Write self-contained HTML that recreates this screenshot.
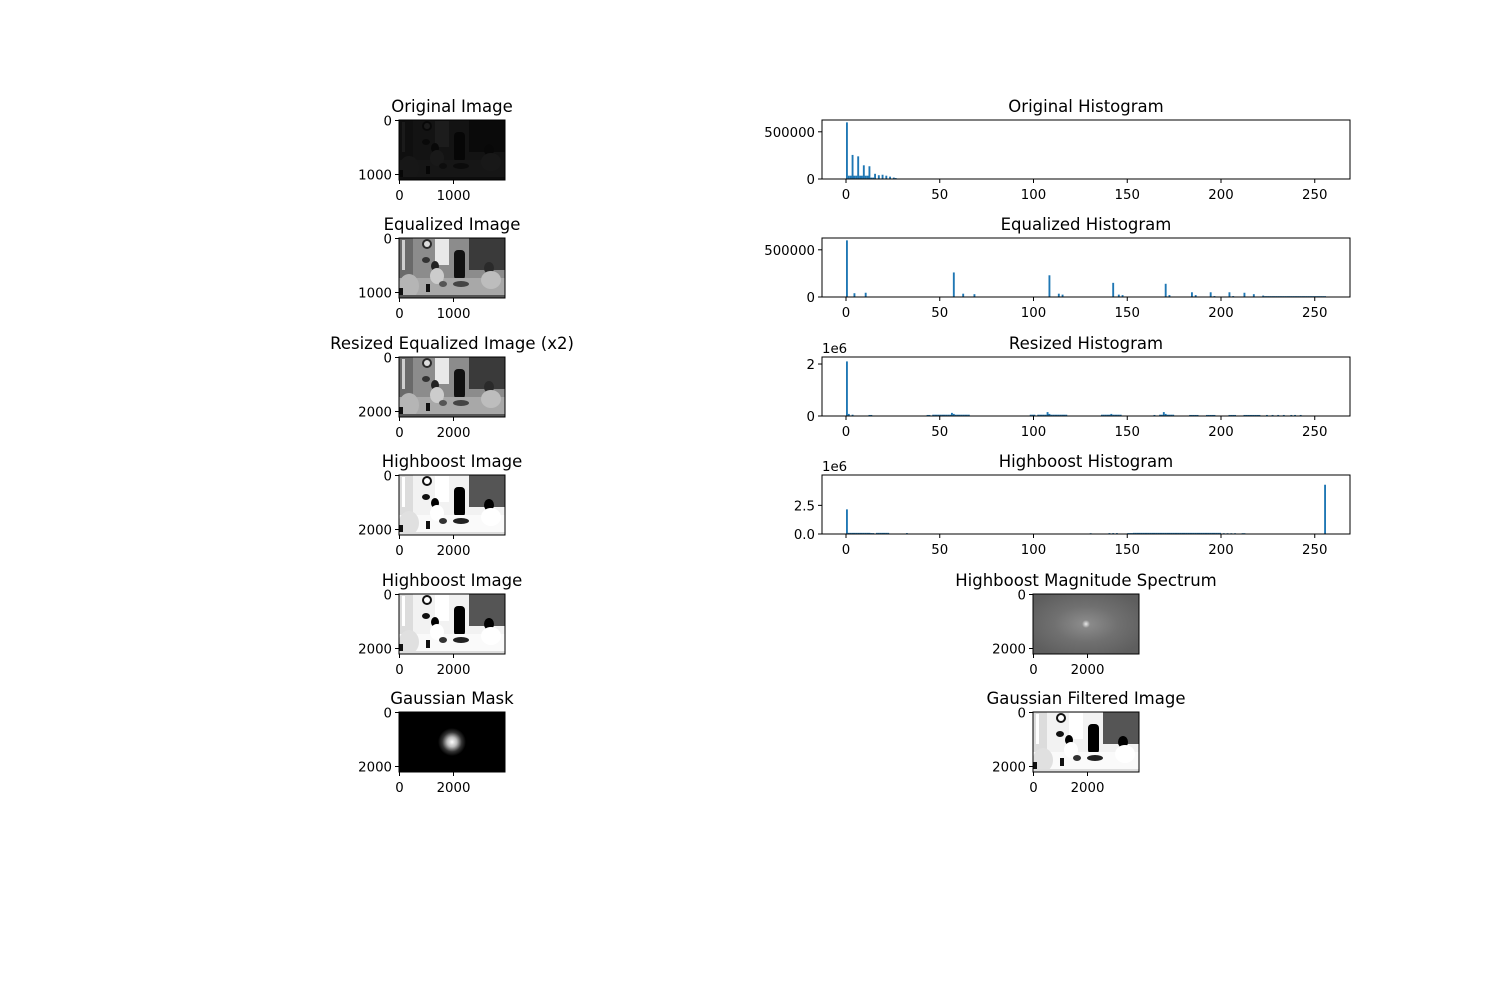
<!DOCTYPE html>
<html><head><meta charset="utf-8">
<style>
html,body{margin:0;padding:0;background:#fff;}
svg{display:block;font-family:"DejaVu Sans","Liberation Sans",sans-serif;}
</style></head>
<body>
<svg id="fig" width="1500" height="1000" viewBox="0 0 1500 1000" xmlns="http://www.w3.org/2000/svg">
<defs>
<radialGradient id="gmask" cx="50%" cy="50%" r="50%">
<stop offset="0" stop-color="#fff"/><stop offset="0.35" stop-color="#bbb"/><stop offset="0.7" stop-color="#333"/><stop offset="1" stop-color="#000"/>
</radialGradient>
<radialGradient id="gspec" cx="50%" cy="50%" r="60%">
<stop offset="0" stop-color="#8e8e8e"/><stop offset="0.5" stop-color="#707070"/><stop offset="1" stop-color="#5e5e5e"/>
</radialGradient>
<radialGradient id="gdot" cx="50%" cy="50%" r="50%">
<stop offset="0" stop-color="#fff" stop-opacity="0.8"/><stop offset="1" stop-color="#fff" stop-opacity="0"/>
</radialGradient>
</defs>
<rect width="1500" height="1000" fill="#fff"/>
</svg>
<script>
// ---------- Histogram data (bin segments: start, end, count) ----------
const origStart = [0, 1, 3, 6, 9, 12, 15, 17, 19, 21, 23, 25, 13, 26];
const origEnd   = [0, 11, 3, 6, 9, 12, 15, 17, 19, 21, 23, 25, 14, 26];
const origCount = [600000, 35000, 255000, 240000, 145000, 135000, 55000, 40000, 45000, 35000, 25000, 15000, 15000, 10000];

const eqStart = [0, 4, 10, 57, 62, 68, 108, 113, 115, 142, 145, 147, 170, 172, 184, 186, 194, 196, 204, 206, 212, 217, 222, 223];
const eqEnd   = [0, 4, 10, 57, 62, 68, 108, 113, 115, 142, 145, 147, 170, 172, 184, 186, 194, 196, 204, 206, 212, 217, 222, 255];
const eqCount = [600000, 40000, 45000, 260000, 35000, 30000, 230000, 35000, 25000, 150000, 25000, 20000, 140000, 20000, 50000, 20000, 50000, 10000, 50000, 10000, 45000, 30000, 15000, 9000];

const rsStart = [0, 1, 3, 12, 43, 46, 56, 57, 58, 98, 102, 107, 108, 109, 136, 141, 142, 164, 167, 169, 170, 171, 183, 192, 204, 212, 224, 227, 230, 233, 237, 239, 242];
const rsEnd   = [0, 1, 3, 13, 44, 55, 56, 57, 65, 100, 106, 107, 108, 117, 140, 141, 146, 164, 168, 169, 170, 174, 187, 196, 207, 220, 224, 227, 230, 233, 237, 239, 242];
const rsCount = [2.1e6, 0.08e6, 0.05e6, 0.04e6, 0.04e6, 0.05e6, 0.12e6, 0.08e6, 0.05e6, 0.05e6, 0.05e6, 0.15e6, 0.08e6, 0.05e6, 0.05e6, 0.08e6, 0.05e6, 0.04e6, 0.05e6, 0.15e6, 0.08e6, 0.05e6, 0.04e6, 0.04e6, 0.04e6, 0.04e6, 0.04e6, 0.04e6, 0.04e6, 0.04e6, 0.04e6, 0.04e6, 0.04e6];

const hbStart = [0, 1, 13, 16, 32, 130, 140, 142, 144, 150, 153, 190, 201, 203, 205, 207, 211, 255];
const hbEnd   = [0, 12, 14, 22, 32, 130, 140, 142, 144, 152, 189, 199, 201, 203, 205, 207, 212, 255];
const hbCount = [2.15e6, 0.1e6, 0.08e6, 0.1e6, 0.08e6, 0.07e6, 0.08e6, 0.08e6, 0.08e6, 0.08e6, 0.1e6, 0.1e6, 0.07e6, 0.07e6, 0.07e6, 0.07e6, 0.07e6, 4.3e6];

const histXTicks = [0, 50, 100, 150, 200, 250];
const origYTicks = [0, 500000];
const eqYTicks = [0, 500000];
const rsYTicks = [0, 2];
const rsYLabels = ["0", "2"];
const hbYTicks = [0, 2.5];
const hbYLabels = ["0.0", "2.5"];

const NS = "http://www.w3.org/2000/svg";
const fig = document.getElementById('fig');
function mk(tag, attrs, parent) {
  const e = document.createElementNS(NS, tag);
  for (const k in attrs) e.setAttribute(k, attrs[k]);
  (parent || fig).appendChild(e);
  return e;
}
function txt(s, x, y, anchor, size, parent) {
  const t = mk('text', {x: x, y: y, 'text-anchor': anchor, 'font-size': size, fill: '#000'}, parent);
  t.textContent = s;
  return t;
}

// ---------- Histogram axes ----------
function histAxes(name, title, top, ymax, scale, yTicks, yLabels, starts, ends, counts, offsetLabel) {
  const L = 822, R = 1350, B = top + 59;
  const g = mk('g', {});
  
  
  const xs = v => L + (v + 12.8) / (268.8 + 12.8) * (R - L);
  const ys = v => B - v / ymax * (B - top);
  const bars = mk('g', {fill: '#1f77b4'}, g);
  
  
  for (let i = 0; i < starts.length; i++) {
    for (let b = starts[i]; b <= ends[i]; b++) {
      const h = counts[i] * scale;
      const r = mk('rect', {x: xs(b), y: ys(h), width: xs(b + 1) - xs(b), height: B - ys(h)}, bars);
      
      
    }
  }
  const frame = mk('rect', {x: L, y: top, width: R - L, height: B - top, fill: 'none', stroke: '#000', 'stroke-width': 1}, g);
  
  
  histXTicks.forEach(v => {
    const x = xs(v);
    mk('line', {x1: x, x2: x, y1: B, y2: B + 4, stroke: '#000', 'stroke-width': 1}, g);
    const t = txt(String(v), x, B + 20, 'middle', 13.3, g);
    
    
  });
  yTicks.forEach((v, i) => {
    const y = ys(v);
    mk('line', {x1: L - 4, x2: L, y1: y, y2: y, stroke: '#000', 'stroke-width': 1}, g);
    const t = txt(yLabels ? yLabels[i] : String(v), L - 7, y + 5, 'end', 13.3, g);
    
    
  });
  if (offsetLabel) {
    const o = txt(offsetLabel, L, top - 4, 'start', 13.3, g);
    
    
  }
  const tt = txt(title, (L + R) / 2, top - 8, 'middle', 16.5, g);
  
  
}
histAxes('original-histogram', 'Original Histogram', 120, 625000, 1, origYTicks, null, origStart, origEnd, origCount, null);
histAxes('equalized-histogram', 'Equalized Histogram', 238, 625000, 1, eqYTicks, null, eqStart, eqEnd, eqCount, null);
histAxes('resized-histogram', 'Resized Histogram', 357, 2.27, 1e-6, rsYTicks, rsYLabels, rsStart, rsEnd, rsCount, '1e6');
histAxes('highboost-histogram', 'Highboost Histogram', 475, 5.15, 1e-6, hbYTicks, hbYLabels, hbStart, hbEnd, hbCount, '1e6');

// ---------- Image axes ----------
let clipId = 0;
function scene(g, mode) {
  const hb = mode === 'hb';
  const c = (eq, h) => hb ? h : eq;
  mk('rect', {x: 0, y: 0, width: 106, height: 60, fill: c('#8c8c8c', '#f2f2f2')}, g);
  mk('rect', {x: 0, y: 0, width: 14, height: 40, fill: c('#6a6a6a', '#dcdcdc')}, g);
  mk('rect', {x: 3, y: 2, width: 3, height: 30, fill: c('#cfcfcf', '#fff')}, g);
  mk('rect', {x: 36, y: 1, width: 14, height: 26, fill: c('#e8e8e8', '#fff')}, g);
  mk('circle', {cx: 28, cy: 6, r: 5, fill: c('#2a2a2a', '#111')}, g);
  mk('circle', {cx: 28, cy: 6, r: 3, fill: c('#ddd', '#fff')}, g);
  mk('rect', {x: 55, y: 12, width: 11, height: 30, rx: 4, fill: c('#111', '#000')}, g);
  mk('rect', {x: 70, y: 0, width: 36, height: 32, fill: c('#3a3a3a', '#555')}, g);
  mk('ellipse', {cx: 27, cy: 22, rx: 4, ry: 3, fill: c('#333', '#111')}, g);
  mk('rect', {x: 0, y: 40, width: 106, height: 20, fill: c('#a8a8a8', '#fafafa')}, g);
  mk('ellipse', {cx: 10, cy: 48, rx: 10, ry: 12, fill: c('#b5b5b5', '#e0e0e0')}, g);
  mk('rect', {x: 0, y: 50, width: 4, height: 10, fill: '#111'}, g);
  mk('ellipse', {cx: 36, cy: 28, rx: 4, ry: 5, fill: c('#222', '#000')}, g);
  mk('ellipse', {cx: 38, cy: 38, rx: 7, ry: 8, fill: c('#ccc', '#fff')}, g);
  mk('ellipse', {cx: 90, cy: 30, rx: 5, ry: 6, fill: c('#2a2a2a', '#000')}, g);
  mk('ellipse', {cx: 92, cy: 42, rx: 10, ry: 9, fill: c('#bdbdbd', '#fff')}, g);
  mk('ellipse', {cx: 62, cy: 46, rx: 8, ry: 3, fill: c('#444', '#222')}, g);
  mk('rect', {x: 27, y: 46, width: 4, height: 8, fill: '#111'}, g);
  mk('ellipse', {cx: 44, cy: 46, rx: 4, ry: 3, fill: c('#555', '#333')}, g);
  mk('rect', {x: 0, y: 57, width: 106, height: 3, fill: c('#555', '#ddd')}, g);
}
function imageAxes(name, title, L, top, xTickVals, xTickPos, yTickLabels, yTickPos, kind) {
  const W = 106, H = 60;
  const g = mk('g', {});
  
  
  const id = 'clip' + (clipId++);
  const cp = mk('clipPath', {id: id}, g);
  mk('rect', {x: 0, y: 0, width: W, height: H}, cp);
  const img = mk('g', {transform: 'translate(' + L + ',' + top + ')', 'clip-path': 'url(#' + id + ')'}, g);
  
  
  if (kind === 'orig') {
    mk('rect', {x: 0, y: 0, width: W, height: H, fill: '#050505'}, img);
    const s = mk('g', {opacity: 0.1}, img);
    scene(s, 'eq');
  } else if (kind === 'eq') {
    scene(img, 'eq');
  } else if (kind === 'hb') {
    scene(img, 'hb');
  } else if (kind === 'mask') {
    mk('rect', {x: 0, y: 0, width: W, height: H, fill: '#000'}, img);
    mk('circle', {cx: 53, cy: 30, r: 14, fill: 'url(#gmask)'}, img);
  } else if (kind === 'spec') {
    mk('rect', {x: 0, y: 0, width: W, height: H, fill: 'url(#gspec)'}, img);
    mk('circle', {cx: 53, cy: 30, r: 4, fill: 'url(#gdot)'}, img);
  }
  mk('rect', {x: L, y: top, width: W, height: H, fill: 'none', stroke: '#000', 'stroke-width': 1}, g);
  xTickVals.forEach((v, i) => {
    const x = L + xTickPos[i];
    mk('line', {x1: x, x2: x, y1: top + H, y2: top + H + 4, stroke: '#000', 'stroke-width': 1}, g);
    const t = txt(v, x, top + H + 20, 'middle', 13.3, g);
    
    
  });
  yTickLabels.forEach((v, i) => {
    const y = top + yTickPos[i];
    mk('line', {x1: L - 4, x2: L, y1: y, y2: y, stroke: '#000', 'stroke-width': 1}, g);
    const t = txt(v, L - 7, y + 5, 'end', 13.3, g);
    
    
  });
  const tt = txt(title, L + W / 2, top - 8, 'middle', 16.5, g);
  
  
}
const smallX = ['0', '1000'], bigX = ['0', '2000'];
const smallY = ['0', '1000'], bigY = ['0', '2000'];
const tp = [0.5, 54.5];
imageAxes('original-image', 'Original Image', 399, 120, smallX, tp, smallY, tp, 'orig');
imageAxes('equalized-image', 'Equalized Image', 399, 238, smallX, tp, smallY, tp, 'eq');
imageAxes('resized-equalized-image', 'Resized Equalized Image (x2)', 399, 357, bigX, tp, bigY, tp, 'eq');
imageAxes('highboost-image', 'Highboost Image', 399, 475, bigX, tp, bigY, tp, 'hb');
imageAxes('highboost-image-2', 'Highboost Image', 399, 594, bigX, tp, bigY, tp, 'hb');
imageAxes('gaussian-mask', 'Gaussian Mask', 399, 712, bigX, tp, bigY, tp, 'mask');
imageAxes('highboost-magnitude-spectrum', 'Highboost Magnitude Spectrum', 1033, 594, bigX, tp, bigY, tp, 'spec');
imageAxes('gaussian-filtered-image', 'Gaussian Filtered Image', 1033, 712, bigX, tp, bigY, tp, 'hb');
</script>
</body></html>
